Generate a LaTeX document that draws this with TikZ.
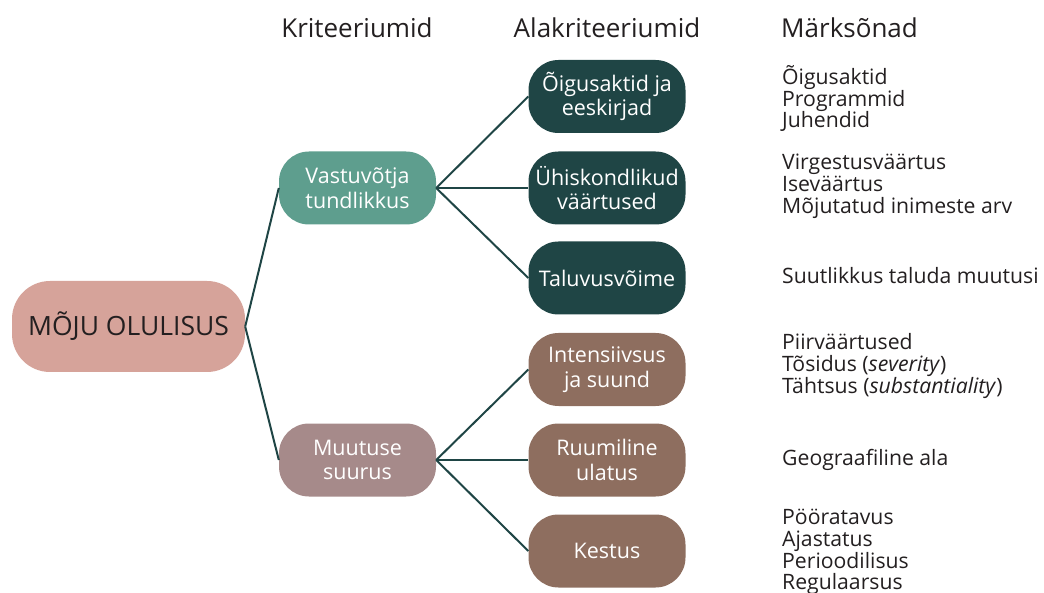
\documentclass[tikz,border=0pt]{standalone}
\usepackage{fontspec}
\setmainfont{Open Sans}
\definecolor{rootfill}{HTML}{D6A39A}
\definecolor{tealfill}{HTML}{5E9E8E}
\definecolor{mauvefill}{HTML}{A68A8A}
\definecolor{darkfill}{HTML}{1F4545}
\definecolor{brownfill}{HTML}{8E6E5F}
\definecolor{linecol}{HTML}{1F4545}
\definecolor{textdark}{HTML}{231F20}
\tikzset{
  rootbox/.style={fill=rootfill, rounded corners=38pt, minimum width=233pt, minimum height=91pt,
    text=textdark, font=\fontsize{26.5}{30}\selectfont, inner sep=0pt},
  critbox/.style={rounded corners=30pt, minimum width=157pt, minimum height=73pt,
    text=white, align=center, font=\fontsize{21.5}{24.5}\selectfont, inner sep=0pt},
  subbox/.style={critbox},
  header/.style={text=textdark, font=\fontsize{26}{30}\selectfont, inner sep=0pt},
  keywords/.style={text=textdark, anchor=west, align=left, inner sep=0pt,
    font=\fontsize{21.2}{21.8}\selectfont},
  link/.style={draw=linecol, line width=2pt}
}
\begin{document}
\begin{tikzpicture}[x=1pt,y=-1pt]
\useasboundingbox (0,0) rectangle (1044,593);
% column headers
\node[header] (h1) at (357,28) {Kriteeriumid};
\node[header] (h2) at (607,28) {Alakriteeriumid};
\node[header, anchor=west] (h3) at (781,28) {Märksõnad};
% tree
\node[rootbox] (root) at (128.5,326.5) {MÕJU OLULISUS};
\node[critbox, fill=tealfill] (c1) at (357.5,188) {Vastuvõtja\\tundlikkus};
\node[critbox, fill=mauvefill] (c2) at (357.5,460) {Muutuse\\suurus};
\node[subbox, fill=darkfill] (s1) at (607,96.5) {Õigusaktid ja\\eeskirjad};
\node[subbox, fill=darkfill] (s2) at (607,188) {Ühiskondlikud\\väärtused};
\node[subbox, fill=darkfill] (s3) at (607,278) {Taluvusvõime};
\node[subbox, fill=brownfill] (s4) at (607,369.5) {Intensiivsus\\ja suund};
\node[subbox, fill=brownfill] (s5) at (607,460) {Ruumiline\\ulatus};
\node[subbox, fill=brownfill] (s6) at (607,551) {Kestus};
\draw[link] (root.east) -- (c1.west);
\draw[link] (root.east) -- (c2.west);
\foreach \s in {s1,s2,s3} \draw[link] (c1.east) -- (\s.west);
\foreach \s in {s4,s5,s6} \draw[link] (c2.east) -- (\s.west);
% keywords
\node[keywords] (k1) at (782,98.5) {Õigusaktid\\Programmid\\Juhendid};
\node[keywords] (k2) at (782,186) {Virgestusväärtus\\Iseväärtus\\Mõjutatud inimeste arv};
\node[keywords] (k3) at (782,276) {Suutlikkus taluda muutusi};
\node[keywords] (k4) at (782,366) {Piirväärtused\\Tõsidus (\textit{severity})\\Tähtsus (\textit{substantiality})};
\node[keywords] (k5) at (782,460) {Geograafiline ala};
\node[keywords] (k6) at (782,552) {Pööratavus\\Ajastatus\\Perioodilisus\\Regulaarsus};
\end{tikzpicture}
\end{document}
